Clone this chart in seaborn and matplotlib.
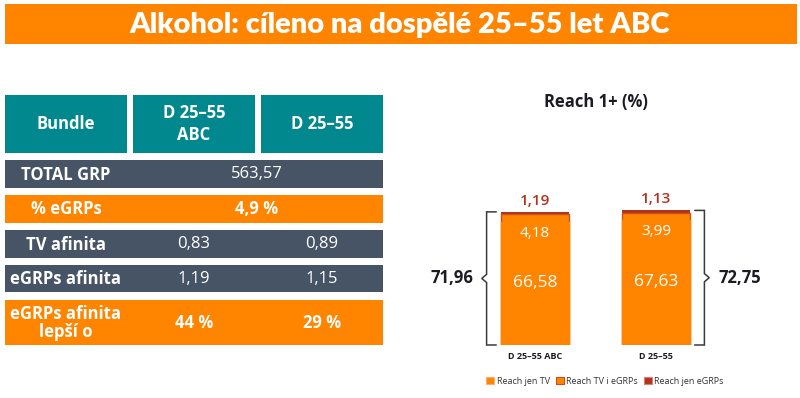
import matplotlib
matplotlib.use("Agg")
import matplotlib.pyplot as plt
from matplotlib.patches import Rectangle, Patch
import numpy as np
import pandas as pd
import seaborn as sns

# ---------------- data ----------------
title = "Alkohol: cíleno na dospělé 25–55 let ABC"
table_header = ["Bundle", "D 25–55\nABC", "D 25–55"]
row_labels = ["TOTAL GRP", "% eGRPs", "TV afinita", "eGRPs afinita", "eGRPs afinita\nlepší o"]
total_grp = "563,57"
egrp_share = "4,9 %"
tv_affinity = ["0,83", "0,89"]
egrp_affinity = ["1,19", "1,15"]
egrp_better = ["44 %", "29 %"]

chart_title = "Reach 1+ (%)"
categories = ["D 25–55 ABC", "D 25–55"]
reach_tv_only = [66.58, 67.63]
reach_tv_and_egrp = [4.18, 3.99]
reach_egrp_only = [1.19, 1.13]
reach_total = [71.96, 72.75]
series_names = ["Reach jen TV", "Reach TV i eGRPs", "Reach jen eGRPs"]

# ---------------- style ----------------
ORANGE = "#FF8500"
RED = "#B3321F"
EDGE2 = "#C9501C"
TEAL = "#00888E"
SLATE = "#465466"
DARK = "#1B1B24"

sns.set_theme(style="white")
plt.rcParams["font.family"] = ["Open Sans", "DejaVu Sans"]

W, H = 800, 398
fig = plt.figure(figsize=(W / 100, H / 100), dpi=100)
fig.patch.set_facecolor("white")

bg = fig.add_axes([0, 0, 1, 1])
bg.set_xlim(0, W)
bg.set_ylim(H, 0)
bg.axis("off")

def rect(x0, y0, x1, y1, color):
    bg.add_patch(Rectangle((x0, y0), x1 - x0, y1 - y0, facecolor=color, edgecolor="none"))

# title banner
rect(5, 4, 797, 44, ORANGE)
bg.text(400, 24.5, title, color="white", fontsize=21, fontweight="heavy",
        family=["Lato", "DejaVu Sans"], ha="center", va="center")

# table
cols = [(5, 127), (133, 255), (261, 383)]
for (x0, x1), txt in zip(cols, table_header):
    rect(x0, 95, x1, 153, TEAL)
    bg.text((x0 + x1) / 2, 124, txt, color="white", fontsize=12, fontweight="bold",
            ha="center", va="center", linespacing=1.3)

rows = [(160, 188, SLATE), (195, 223, ORANGE), (230, 258, SLATE), (265, 292, SLATE), (300, 345, ORANGE)]
for (y0, y1, c), lab in zip(rows, row_labels):
    rect(5, y0, 383, y1, c)
    bg.text(66, (y0 + y1) / 2 + 0.5, lab, color="white", fontsize=12, fontweight="bold",
            ha="center", va="center", linespacing=1.0)

c2, c3, cmid = 194, 322, 257
def ymid(i):
    return (rows[i][0] + rows[i][1]) / 2 + 0.5

bg.text(cmid, ymid(0), total_grp, color="white", fontsize=12, ha="center", va="center")
bg.text(cmid, ymid(1), egrp_share, color="white", fontsize=12, fontweight="bold", ha="center", va="center")
for xc, v in zip([c2, c3], tv_affinity):
    bg.text(xc, ymid(2), v, color="white", fontsize=12, ha="center", va="center")
for xc, v in zip([c2, c3], egrp_affinity):
    bg.text(xc, ymid(3), v, color="white", fontsize=12, ha="center", va="center")
for xc, v in zip([c2, c3], egrp_better):
    bg.text(xc, ymid(4), v, color="white", fontsize=12, fontweight="bold", ha="center", va="center")

# chart title
bg.text(596, 102, chart_title, color=DARK, fontsize=12, fontweight="bold", ha="center", va="center")

# ---------------- stacked bars ----------------
ax_left, ax_w = 414, 363
ax_bot, ax_h = 345, 185
ax = fig.add_axes([ax_left / W, (H - ax_bot) / H, ax_w / W, ax_h / H])
ax.set_facecolor("none")

df = pd.DataFrame({
    "cat": categories,
    "tv": reach_tv_only,
    "both": reach_tv_and_egrp,
    "eg": reach_egrp_only,
})
df["cum_both"] = df["tv"] + df["both"]
df["cum_all"] = df["cum_both"] + df["eg"]

bw = 0.56
sns.barplot(data=df, x="cat", y="cum_all", color=RED, width=bw, saturation=1,
            edgecolor=RED, linewidth=0, ax=ax)
sns.barplot(data=df, x="cat", y="cum_both", color=ORANGE, width=bw, saturation=1,
            edgecolor=EDGE2, linewidth=1.0, ax=ax)
sns.barplot(data=df, x="cat", y="tv", color=ORANGE, width=bw, saturation=1,
            edgecolor=ORANGE, linewidth=1.0, ax=ax)

ax.set_xlim(-1, 2)
ax.set_ylim(0, 100)
ax.set_xlabel("")
ax.set_ylabel("")
ax.set_yticks([])
ax.tick_params(axis="x", length=0, pad=5)
ax.set_xticks(range(len(categories)))
ax.set_xticklabels(categories, fontsize=6.5, fontweight="bold", color=DARK)
for s in ax.spines.values():
    s.set_visible(False)

fmt = lambda v: f"{v:.2f}".replace(".", ",")
for i in range(len(df)):
    ax.text(i, df["tv"][i] / 2, fmt(df["tv"][i]), color="white", fontsize=12.5,
            fontweight="medium", ha="center", va="center")
    ax.annotate(fmt(df["both"][i]), (i, df["tv"][i]), xytext=(0, -3),
                textcoords="offset points", color="white", fontsize=11,
                fontweight="medium", ha="center", va="top")
    ax.annotate(fmt(df["eg"][i]), (i, df["cum_all"][i]), xytext=(0, 3),
                textcoords="offset points", color=RED, fontsize=11,
                fontweight="semibold", ha="center", va="bottom")

# brackets with totals
def bracket(xc, total, side):
    s = -1 if side == "left" else 1
    xv = xc + s * 0.40
    xt = xc + s * 0.32
    mid = total / 2
    col = "#3A3A3A"
    ax.plot([xt, xv, xv, xv + s * 0.04, xv, xv, xt],
            [0, 0, mid - 2.2, mid, mid + 2.2, total, total],
            color=col, lw=1.1, solid_joinstyle="miter", clip_on=False)
    ax.text(xc + s * 0.69, mid, fmt(total), color=DARK, fontsize=12,
            fontweight="bold", ha="center", va="center")

bracket(0, reach_total[0], "left")
bracket(1, reach_total[1], "right")

handles = [
    Patch(facecolor=ORANGE, edgecolor="#FFB070", linewidth=0.8),
    Patch(facecolor=ORANGE, edgecolor=EDGE2, linewidth=0.8),
    Patch(facecolor=RED, edgecolor="#D98070", linewidth=0.8),
]
fig.legend(handles, series_names, loc="center", bbox_to_anchor=(605 / W, (H - 381) / H),
           ncol=3, frameon=False, fontsize=6.5, handlelength=0.9, handleheight=0.9,
           handletextpad=0.3, columnspacing=0.6, labelcolor="#333333")

fig.savefig("out.png", dpi=100, facecolor="white")
